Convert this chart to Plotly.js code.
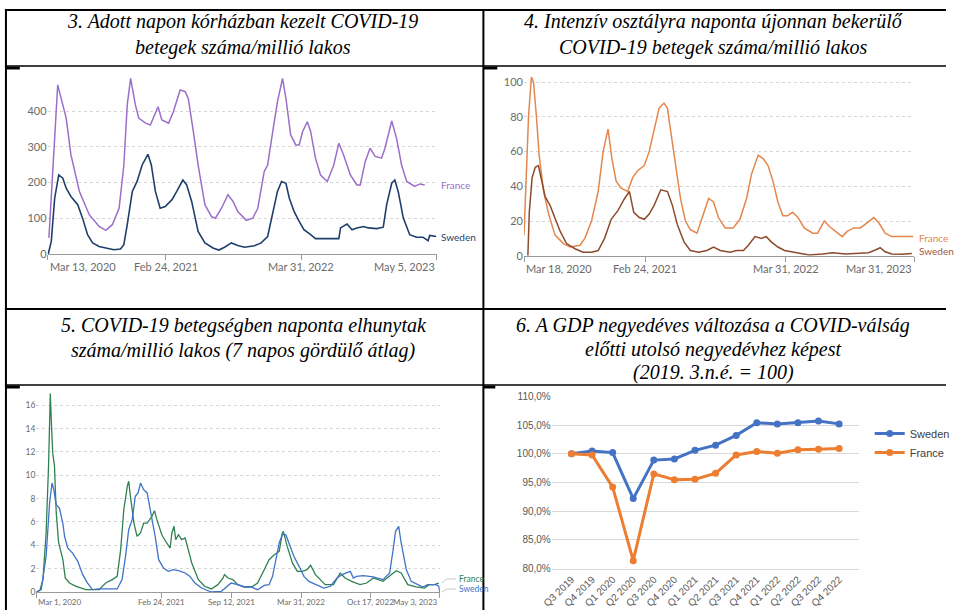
<!DOCTYPE html>
<html><head><meta charset="utf-8">
<script src="https://cdn.plot.ly/plotly-3.0.1.min.js"></script>
<style>html,body{margin:0;padding:0;background:#fff}#chart{width:955px;height:610px}</style>
</head><body><div id="chart"></div>
<script>
// ---------- DATA ----------
// Panel 3: hospitalised patients per million (day offsets from 2020-03-13)
const hospStart = '2020-03-13';
const hospFrDay = [4,30,55,69,94,123,152,172,191,211,225,235,245,259,269,289,303,318,326,337,357,371,391,406,415,430,444,464,483,495,513,532,547,561,586,605,620,639,649,664,678,693,703,717,732,742,752,766,776,790,805,825,844,859,873,893,912,922,937,951,966,985,995,1015,1029,1044,1059,1083,1098,1112];
const hospFrVal = [45,473,380,277,175,110,77,66,82,128,249,417,491,417,380,366,361,398,412,375,366,398,459,454,435,342,249,138,105,100,128,166,147,119,94,100,128,231,249,342,426,491,435,333,305,305,342,370,342,268,221,203,249,310,277,221,193,193,259,296,273,268,296,372,324,249,203,189,196,193];
const hospSeDay = [2,11,21,33,45,55,69,89,103,118,133,152,172,196,215,225,235,250,264,279,296,306,318,332,347,367,381,399,410,425,444,464,488,505,522,542,561,581,610,630,649,664,678,690,703,713,727,742,756,776,790,859,864,883,898,912,932,946,971,990,1000,1015,1024,1034,1049,1068,1088,1107,1122,1127,1146];
const hospSeVal = [0,35,156,221,212,184,161,138,101,54,31,21,17,12,14,26,82,175,203,249,279,249,175,128,133,152,175,207,194,147,63,31,17,11,19,31,24,19,23,31,49,110,175,203,198,156,119,91,68,54,43,43,73,84,68,73,77,73,71,75,138,198,207,175,101,54,47,47,37,52,49];
const hospTickDates = ['2020-03-13','2021-02-24','2022-03-31','2023-05-05'];
const hospTickText = ['Mar 13, 2020','Feb 24, 2021','Mar 31, 2022','May 5, 2023'];

// Panel 4: new ICU admissions per million (day offsets from 2020-03-18)
const icuStart = '2020-03-18';
const icuFrDay = [-2,11,19,25,33,41,54,68,86,110,129,157,171,190,209,223,237,248,260,274,293,307,321,340,354,368,382,396,406,415,429,443,457,471,490,504,523,537,551,570,593,612,631,645,664,678,692,706,720,734,748,762,777,795,819,833,852,866,885,903,917,936,955,974,993,1007,1025,1044,1068,1086,1105];
const icuFrVal = [12,81,103,100,81,58,37,24,12,7,5,6,10,20,37,60,73,56,43,39,37,45,49,52,60,72,85,88,85,72,52,33,20,15,13,22,33,31,22,16,16,21,33,47,58,56,52,43,31,23,23,25,22,16,13,13,20,17,14,11,14,16,16,19,22,19,13,11,11,11,11];
const icuSeDay = [9,13,21,30,39,47,58,72,86,101,119,143,166,190,209,227,246,265,284,298,310,326,340,354,368,387,406,420,434,453,471,495,518,537,556,584,603,622,636,655,673,687,701,720,739,762,781,809,847,875,913,950,978,997,1011,1025,1044,1072,1101];
const icuSeVal = [0,25,45,51,52,45,34,29,22,14,7,4,2,2,3,10,21,26,33,37,25,22,21,24,29,38,37,29,18,8,3,2,3,5,3,2,3,3,6,11,10,11,8,5,3,2,1.3,0.4,1,1.7,1,1.5,1.7,3.3,4.6,2.3,1,0.8,1.2];
const icuTickDates = ['2020-03-16','2021-02-24','2022-03-31','2023-03-31'];
const icuTickText = ['Mar 18, 2020','Feb 24, 2021','Mar 31, 2022','Mar 31, 2023'];

// Panel 5: daily deaths per million, 7-day avg (day offsets from 2020-03-01)
const deathStart = '2020-03-01';
const deathFrDay = [0,10,19,28,35,40,44,47,52,57,64,71,76,83,95,114,142,180,199,218,232,242,251,261,265,270,280,289,299,308,318,332,339,346,360,374,384,389,395,400,408,417,427,436,446,465,483,502,521,536,540,550,564,578,597,621,635,654,668,683,697,706,709,720,735,749,763,777,787,801,815,829,853,872,886,905,929,948,967,995,1019,1033,1047,1066,1090,1114,1128,1142,1155];
const deathFrVal = [0,0.14,1.06,5.06,10.8,17,13.9,11.9,10.8,6.8,4.2,3.2,2.8,1.2,0.77,0.49,0.2,0.2,0.77,1.06,1.34,3.63,7.06,9.06,9.49,8.2,5.91,4.77,5.06,5.91,5.91,6.49,6.97,6.2,4.91,4.2,3.77,5.06,5.63,4.49,4.91,4.49,4.63,3.63,2.49,1.06,0.49,0.26,0.63,1.2,1.49,1.2,1.06,0.63,0.43,0.49,0.77,1.91,2.77,3.2,3.49,5.06,5.2,3.91,2.49,1.77,1.77,1.91,2.29,1.49,1.06,0.63,0.63,1.63,1.2,0.91,0.63,0.77,1.2,0.91,1.49,1.83,1.63,0.63,0.43,0.34,0.63,0.63,0.77];
const deathSeDay = [0,14,28,38,45,50,57,66,76,81,90,104,119,133,147,161,180,232,246,256,265,275,284,292,299,308,318,327,341,351,365,379,393,408,427,441,455,474,502,531,550,559,578,597,616,635,654,668,678,687,697,706,716,725,739,754,768,782,801,825,844,863,877,901,910,919,938,967,995,1014,1024,1031,1040,1047,1062,1076,1095,1109,1123,1147,1155,1158];
const deathSeVal = [0,0.2,3.06,7.63,9.34,8.77,7.49,7.2,5.91,4.77,3.77,3.34,2.63,1.49,0.77,0.2,0.26,0.26,1.06,3.06,5.34,6.2,8.2,8.49,9.34,8.77,8.49,7.06,4.77,2.77,2.06,1.77,1.91,1.83,1.63,1.34,0.77,0.34,0,0.06,0.49,0.77,0.63,0.43,0.43,0.2,0.57,0.63,1.34,2.77,4.2,4.91,4.91,4.2,3.06,2.2,1.34,0.91,0.63,0.34,0.49,1.2,1.49,1.77,1.2,1.34,1.4,1.29,1.06,1.63,3.63,5.2,5.63,4.2,1.91,0.91,0.63,0.43,0.63,0.63,0.49,0];
const deathTickDates = ['2020-03-01','2021-02-24','2021-09-12','2022-03-31','2022-10-17','2023-05-03'];
const deathTickText = ['Mar 1, 2020','Feb 24, 2021','Sep 12, 2021','Mar 31, 2022','Oct 17, 2022','May 3, 2023'];

// Panel 6: quarterly GDP (2019 Q3 = 100)
const quarters = ['Q3 2019','Q4 2019','Q1 2020','Q2 2020','Q3 2020','Q4 2020','Q1 2021','Q2 2021','Q3 2021','Q4 2021','Q1 2022','Q2 2022','Q3 2022','Q4 2022'];
const gdpSweden = [100.0,100.5,100.2,92.2,98.9,99.1,100.6,101.5,103.2,105.4,105.2,105.4,105.7,105.2];
const gdpFrance = [100.0,99.8,94.2,81.4,96.5,95.5,95.55,96.6,99.8,100.4,100.1,100.7,100.8,100.9];

const titles = {
  p3: ['3. Adott napon kórházban kezelt COVID-19','betegek száma/millió lakos'],
  p4: ['4. Intenzív osztályra naponta újonnan bekerülő','COVID-19 betegek száma/millió lakos'],
  p5: ['5. COVID-19 betegségben naponta elhunytak','száma/millió lakos (7 napos gördülő átlag)'],
  p6: ['6. A GDP negyedéves változása a COVID-válság','előtti utolsó negyedévhez képest','(2019. 3.n.é. = 100)']
};

// ---------- helpers ----------
const W = 955, H = 610;
const px = x => x / W;
const py = y => 1 - y / H;
const dx = (a, b) => [px(a), px(b)];
const dy = (top, bot) => [py(bot), py(top)];
function toDates(start, days) {
  const t0 = Date.parse(start + 'T00:00:00Z');
  return days.map(d => new Date(t0 + d * 86400000).toISOString().slice(0, 10));
}
const LATO = 'Lato, "Open Sans", sans-serif';
function line(xs, ys, xa, ya, color, width) {
  return {x: xs, y: ys, xaxis: xa, yaxis: ya, type: 'scatter', mode: 'lines',
    line: {color: color, width: width}, showlegend: false, hoverinfo: 'skip'};
}

const traces = [
  line(toDates(hospStart, hospFrDay), hospFrVal, 'x', 'y', '#9b6fc9', 1.5),
  line(toDates(hospStart, hospSeDay), hospSeVal, 'x', 'y', '#1f3f6b', 1.6),
  line(toDates(icuStart, icuFrDay), icuFrVal, 'x2', 'y2', '#e4874e', 1.5),
  line(toDates(icuStart, icuSeDay), icuSeVal, 'x2', 'y2', '#8d4b2e', 1.5),
  line(toDates(deathStart, deathFrDay), deathFrVal, 'x3', 'y3', '#2f8152', 1.3),
  line(toDates(deathStart, deathSeDay), deathSeVal, 'x3', 'y3', '#3f72c8', 1.3),
  {x: quarters, y: gdpSweden, xaxis: 'x4', yaxis: 'y4', type: 'scatter', mode: 'lines+markers', name: 'Sweden',
   line: {color: '#4472c4', width: 3}, marker: {color: '#4472c4', size: 7}, hoverinfo: 'skip'},
  {x: quarters, y: gdpFrance, xaxis: 'x4', yaxis: 'y4', type: 'scatter', mode: 'lines+markers', name: 'France',
   line: {color: '#ed7d31', width: 3}, marker: {color: '#ed7d31', size: 7}, hoverinfo: 'skip'}
];

function owidX(domain, range, tickvals, anchor) {
  return {type: 'date', domain: domain, range: range, anchor: anchor, showgrid: false, zeroline: false,
    showline: true, linecolor: '#9a9a9a', linewidth: 1, ticks: 'outside', ticklen: 5, tickcolor: '#9a9a9a',
    tickvals: tickvals, showticklabels: false, fixedrange: true};
}
function owidY(domain, range, tickvals, anchor, size) {
  return {domain: domain, range: range, anchor: anchor, tickvals: tickvals, showgrid: true, gridcolor: '#d6d6d6',
    griddash: 'dot', gridwidth: 1, zeroline: false, showline: false, ticks: '',
    tickfont: {family: LATO, size: size, color: '#6b6b6b'}, fixedrange: true};
}

const layout = {
  width: W, height: H, margin: {l: 0, r: 0, t: 0, b: 0},
  paper_bgcolor: '#ffffff', plot_bgcolor: 'rgba(0,0,0,0)',
  separators: ', ',
  xaxis: owidX(dx(48, 441), ['2020-03-13', '2023-05-05'], hospTickDates, 'y'),
  yaxis: owidY(dy(75.25, 254), [0, 500], [0, 100, 200, 300, 400], 'x', 11),
  xaxis2: owidX(dx(529, 923), ['2020-03-16', '2023-03-31'], icuTickDates, 'y2'),
  yaxis2: owidY(dy(73.6, 255.7), [0, 105], [0, 20, 40, 60, 80, 100], 'x2', 11),
  xaxis3: owidX(dx(36.7, 444), ['2020-03-01', '2023-05-03'], deathTickDates, 'y3'),
  yaxis3: owidY(dy(391.3, 592), [0, 17.2], [0, 2, 4, 6, 8, 10, 12, 14, 16], 'x3', 8.5),
  xaxis4: {domain: dx(557, 867), anchor: 'y4', type: 'category', showgrid: false, showline: true,
    linecolor: '#d9d9d9', ticks: '', tickangle: -45, tickfont: {family: 'Liberation Sans, Arial', size: 10, color: '#595959'},
    fixedrange: true},
  yaxis4: {domain: dy(396.3, 568.7), anchor: 'x4', range: [80, 110], dtick: 5, tick0: 80, tickformat: '.1f',
    ticksuffix: '%', showgrid: true, gridcolor: '#d9d9d9', gridwidth: 1, zeroline: false, showline: false,
    ticks: '', tickfont: {family: 'Liberation Sans, Arial', size: 10, color: '#595959'}, fixedrange: true},
  showlegend: true,
  legend: {x: px(878), y: py(419), xanchor: 'left', yanchor: 'top', bgcolor: 'rgba(0,0,0,0)',
    font: {family: 'Liberation Sans, Arial', size: 11, color: '#404040'}, itemwidth: 30, tracegroupgap: 0},
  annotations: [],
  shapes: []
};

// table borders
function hline(y, x0, x1, w) {
  layout.shapes.push({type: 'line', xref: 'paper', yref: 'paper', x0: px(x0), x1: px(x1), y0: py(y), y1: py(y),
    line: {color: '#000', width: w}});
}
function vline(x, y0, y1, w) {
  layout.shapes.push({type: 'line', xref: 'paper', yref: 'paper', x0: px(x), x1: px(x), y0: py(y0), y1: py(y1),
    line: {color: '#000', width: w}});
}
hline(10, 5, 955, 2);
hline(66, 5, 955, 1.5);
hline(309, 5, 955, 2);
hline(385, 5, 955, 1.5);
vline(6, 9, 610, 2);
vline(488, 9, 610, 2);
// small dark edge pieces of the pasted chart images
hline(68, 6, 20, 3);
hline(68, 488, 502, 3);
hline(387, 488, 500, 3);
hline(387, 6, 20, 3);

// titles
function titleLines(lines, cx, ys) {
  lines.forEach((t, i) => layout.annotations.push({xref: 'paper', yref: 'paper', x: px(cx), y: py(ys[i]),
    xanchor: 'center', yanchor: 'middle', showarrow: false, text: '<i>' + t + '</i>',
    font: {family: '"Liberation Serif", "DejaVu Serif", serif', size: 20, color: '#000'}}));
}
titleLines(titles.p3, 245, [21, 47]);
titleLines(titles.p4, 720, [21, 47]);
titleLines(titles.p5, 246, [325, 351]);
titleLines(titles.p6, 720, [325, 349, 372]);

// OWID x tick labels
function xTicks(xref, dates, texts, ypix, size) {
  dates.forEach((d, i) => {
    const anchor = i === 0 ? 'left' : (i === dates.length - 1 ? 'right' : 'center');
    layout.annotations.push({xref: xref, yref: 'paper', x: d, y: py(ypix), xanchor: anchor, yanchor: 'middle',
      showarrow: false, text: texts[i], font: {family: LATO, size: size, color: '#6b6b6b'}});
  });
}
xTicks('x', hospTickDates, hospTickText, 266, 11);
xTicks('x2', icuTickDates, icuTickText, 268, 11);
xTicks('x3', deathTickDates, deathTickText, 602, 8);

// end labels
function endLabel(yref, xpix, yval, text, color, size) {
  layout.annotations.push({xref: 'paper', yref: yref, x: px(xpix), y: yval, xanchor: 'left', yanchor: 'middle',
    showarrow: false, text: text, font: {family: LATO, size: size, color: color}});
}
endLabel('y', 443, 193, 'France', '#9b6fc9', 10);
endLabel('y', 443, 47, 'Sweden', '#1f3f6b', 10);
endLabel('y2', 926, 10.4, 'France', '#e4874e', 10);
endLabel('y2', 926, 2.9, 'Sweden', '#a0583a', 10);
layout.annotations.push({xref: 'paper', yref: 'paper', x: px(461), y: py(579), xanchor: 'left', yanchor: 'middle',
  showarrow: false, text: 'France', font: {family: LATO, size: 8.5, color: '#2f8152'}});
layout.annotations.push({xref: 'paper', yref: 'paper', x: px(461), y: py(589), xanchor: 'left', yanchor: 'middle',
  showarrow: false, text: 'Sweden', font: {family: LATO, size: 8.5, color: '#3f72c8'}});
function connector(pts) {
  const p = pts.map((q, i) => (i ? 'L' : 'M') + px(q[0]) + ',' + py(q[1])).join(' ');
  layout.shapes.push({type: 'path', xref: 'paper', yref: 'paper', path: p, line: {color: '#c8c8c8', width: 1}});
}
connector([[446, 583], [451, 579], [460, 579]]);
connector([[446, 592], [451, 589], [460, 589]]);

Plotly.newPlot('chart', traces, layout, {staticPlot: true, displayModeBar: false});
</script>
</body></html>
